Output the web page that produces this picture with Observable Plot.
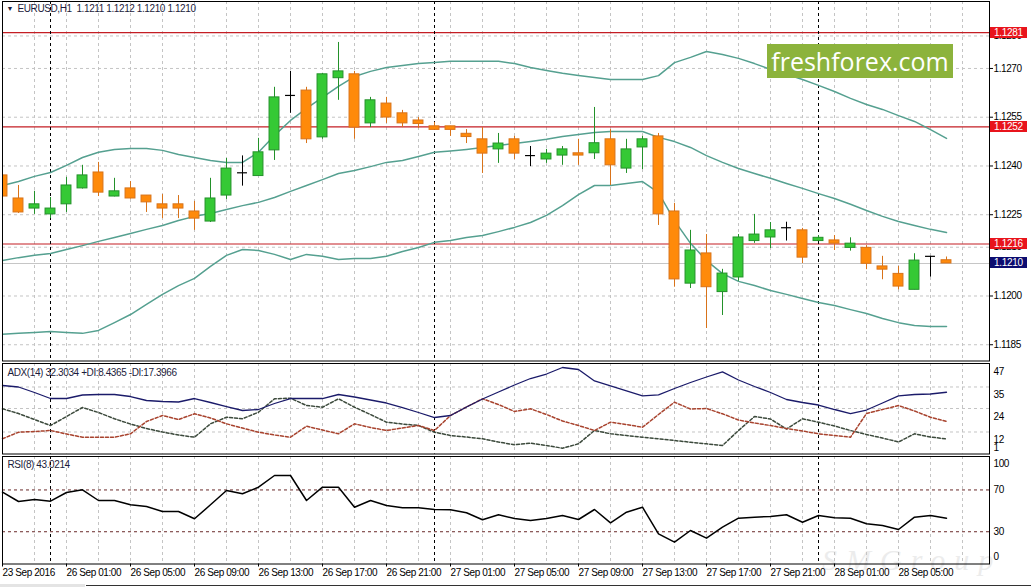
<!DOCTYPE html>
<html><head><meta charset="utf-8">
<script src="https://cdn.jsdelivr.net/npm/d3@7"></script>
<script src="https://cdn.jsdelivr.net/npm/@observablehq/plot@0.6"></script>
<style>
body{margin:0;background:#fff;}
#wrap{position:relative;width:1031px;height:587px;overflow:hidden;background:#fff;font-family:"Liberation Sans",Arial,sans-serif;}
#wrap svg{position:absolute;left:0;}
.lbl{position:absolute;left:990px;width:37px;height:11px;color:#fff;font:10px "Liberation Sans",Arial,sans-serif;letter-spacing:-0.3px;line-height:11px;text-align:center;}
</style></head><body><div id="wrap"></div><script>
// ---- data ----
const openP = [1.12371,1.12300,1.12269,1.12251,1.12282,1.12331,1.12380,1.12306,1.12331,1.12309,
1.12282,1.12282,1.12260,1.12229,1.12309,1.12379,1.12369,1.12448,1.12617,1.12632,
1.12488,1.12670,1.12682,1.12531,1.12592,1.12562,1.12540,1.12522,1.12522,1.12499,
1.12482,1.12451,1.12482,1.12432,1.12420,1.12432,1.12439,1.12439,1.12482,1.12392,
1.12457,1.12491,1.12260,1.12038,1.12131,1.12012,1.12057,1.12169,1.12180,1.12210,
1.12202,1.12169,1.12171,1.12148,1.12148,1.12091,1.12068,1.12019,1.12122,1.12110];
const highP = [1.12380,1.12340,1.12322,1.12303,1.12365,1.12402,1.12411,1.12362,1.12352,1.12309,
1.12312,1.12309,1.12291,1.12362,1.12423,1.12431,1.12485,1.12642,1.12691,1.12642,
1.12685,1.12780,1.12691,1.12611,1.12611,1.12571,1.12549,1.12534,1.12522,1.12512,
1.12518,1.12500,1.12491,1.12460,1.12451,1.12460,1.12482,1.12580,1.12512,1.12482,
1.12491,1.12500,1.12285,1.12202,1.12189,1.12082,1.12189,1.12251,1.12226,1.12227,
1.12208,1.12186,1.12186,1.12179,1.12155,1.12122,1.12091,1.12130,1.12122,1.12120];
const lowP = [1.12288,1.12254,1.12251,1.12238,1.12257,1.12329,1.12306,1.12305,1.12298,1.12257,
1.12238,1.12238,1.12202,1.12226,1.12297,1.12338,1.12368,1.12417,1.12562,1.12469,
1.12482,1.12602,1.12482,1.12518,1.12531,1.12518,1.12515,1.12511,1.12491,1.12469,
1.12377,1.12408,1.12420,1.12398,1.12408,1.12402,1.12402,1.12420,1.12340,1.12377,
1.12389,1.12217,1.12027,1.12023,1.11900,1.11940,1.12045,1.12162,1.12146,1.12169,
1.12100,1.12168,1.12140,1.12138,1.12081,1.12050,1.12019,1.12019,1.12058,1.12100];
const closeP = [1.12306,1.12257,1.12282,1.12269,1.12340,1.12371,1.12318,1.12322,1.12300,1.12288,
1.12269,1.12269,1.12238,1.12300,1.12392,1.12379,1.12442,1.12611,1.12617,1.12482,
1.12682,1.12691,1.12518,1.12602,1.12549,1.12531,1.12529,1.12511,1.12511,1.12489,
1.12438,1.12469,1.12438,1.12432,1.12438,1.12451,1.12432,1.12470,1.12402,1.12451,
1.12482,1.12251,1.12051,1.12140,1.12027,1.12069,1.12180,1.12189,1.12202,1.12210,
1.12118,1.12179,1.12161,1.12161,1.12099,1.12081,1.12029,1.12109,1.12122,1.12100];
const bbUpper = [1.12340,1.12352,1.12368,1.12380,1.12402,1.12426,1.12442,1.12451,1.12454,1.12454,
1.12448,1.12435,1.12426,1.12417,1.12411,1.12411,1.12442,1.12494,1.12540,1.12577,
1.12611,1.12645,1.12675,1.12691,1.12703,1.12709,1.12715,1.12718,1.12722,1.12722,
1.12722,1.12722,1.12715,1.12703,1.12694,1.12685,1.12678,1.12672,1.12666,1.12666,
1.12666,1.12678,1.12718,1.12734,1.12752,1.12743,1.12731,1.12715,1.12697,1.12682,
1.12666,1.12648,1.12629,1.12608,1.12589,1.12574,1.12555,1.12537,1.12512,1.12485];
const bbMiddle = [1.12109,1.12118,1.12125,1.12131,1.12143,1.12155,1.12168,1.12180,1.12192,1.12205,
1.12217,1.12232,1.12245,1.12254,1.12266,1.12278,1.12288,1.12303,1.12322,1.12340,
1.12358,1.12377,1.12386,1.12398,1.12411,1.12417,1.12429,1.12442,1.12446,1.12451,
1.12457,1.12463,1.12469,1.12475,1.12482,1.12491,1.12497,1.12503,1.12506,1.12506,
1.12506,1.12488,1.12475,1.12457,1.12432,1.12411,1.12392,1.12377,1.12362,1.12346,
1.12331,1.12315,1.12300,1.12282,1.12263,1.12245,1.12229,1.12217,1.12205,1.12195];
const bbLower = [1.11882,1.11885,1.11888,1.11891,1.11888,1.11885,1.11894,1.11918,1.11943,1.11974,
1.12005,1.12032,1.12054,1.12091,1.12125,1.12143,1.12140,1.12128,1.12112,1.12128,
1.12122,1.12112,1.12115,1.12115,1.12122,1.12137,1.12149,1.12165,1.12171,1.12180,
1.12186,1.12198,1.12211,1.12226,1.12248,1.12278,1.12312,1.12340,1.12340,1.12346,
1.12352,1.12318,1.12232,1.12162,1.12109,1.12069,1.12045,1.12032,1.12017,1.12005,
1.11992,1.11980,1.11971,1.11958,1.11946,1.11931,1.11918,1.11909,1.11906,1.11906];
const adxMain = [35.76,34.99,32.18,29.11,29.11,30.90,31.16,31.16,30.13,28.09,
27.58,27.32,29.11,27.07,25.02,22.98,23.49,26.56,29.11,29.11,
29.11,31.16,29.88,28.35,26.81,24.51,21.96,19.40,20.42,24.77,
28.86,32.43,36.01,39.33,41.63,44.96,43.93,38.06,35.60,33.05,
30.49,31.00,34.22,37.29,40.10,42.76,38.57,35.25,32.18,28.60,
27.07,25.79,23.49,21.44,23.23,26.81,30.49,31.16,31.41,32.30];
const plusDI = [23.85,21.44,18.38,15.31,19.91,24.51,21.96,18.74,16.08,13.78,
11.99,10.46,9.33,16.18,19.55,18.74,22.11,28.96,29.26,25.53,
24.66,28.96,24.66,20.93,17.00,16.08,15.31,11.89,10.20,9.43,
8.51,6.88,5.45,6.26,5.09,3.71,5.96,12.76,11.07,10.20,
9.33,8.51,7.64,6.78,5.96,5.09,12.76,19.91,18.63,13.52,
18.74,17.00,15.06,12.76,10.71,8.92,6.88,11.07,9.43,8.44];
const minusDI = [8.51,11.89,12.24,12.76,10.97,9.33,9.33,9.33,11.07,17.36,
20.42,18.38,21.29,19.14,16.18,14.03,11.89,10.46,9.33,14.95,
13.01,11.07,16.18,14.29,12.76,14.03,15.31,12.76,20.42,24.77,
28.96,26.04,22.47,23.85,20.93,17.61,15.31,12.76,17.00,15.82,
14.44,20.93,27.22,23.74,24.00,21.29,18.12,16.59,15.31,13.78,
12.50,11.07,10.20,9.33,21.44,23.49,25.53,22.72,19.55,17.40];
const rsiVals = [67.85,58.95,60.86,59.23,67.56,70.14,59.90,59.90,55.79,54.16,
49.38,49.38,42.39,55.79,69.47,66.32,72.63,83.83,83.83,59.90,
72.63,72.63,53.49,59.90,55.12,52.92,52.92,51.29,51.00,48.13,
41.44,46.22,42.68,40.77,42.68,45.55,41.72,51.29,38.56,48.71,
53.49,28.04,20.00,31.20,23.83,34.35,42.97,43.92,44.59,46.22,
39.14,45.55,43.35,42.97,37.61,35.98,32.15,43.92,45.55,43.02];
const priceTicks = [1.1185,1.1200,1.1215,1.1225,1.1240,1.1255,1.1270,1.1280];
const redLevels = [1.1281,1.1252,1.1216];
const bidPrice = 1.1210;
const timeTickIdx = [0,4,8,12,16,20,24,28,32,36,40,44,48,52,56];
const timeLabels = ["23 Sep 2016","26 Sep 01:00","26 Sep 05:00","26 Sep 09:00","26 Sep 13:00","26 Sep 17:00","26 Sep 21:00","27 Sep 01:00","27 Sep 05:00","27 Sep 09:00","27 Sep 13:00","27 Sep 17:00","27 Sep 21:00","28 Sep 01:00","28 Sep 05:00"];
const daySepIdx = [3,27,51];
const adxTicks = [47,35,24,12];
const adxMinTick = [1];
const rsiLevels = [30,70];
const rsiTop = [100];
const rsiBottom = [0];
const headerText = "EURUSD,H1\u00a0\u00a01.1211 1.1212 1.1210 1.1210";
const adxText = "ADX(14) 32.3034 +DI:8.4365 -DI:17.3966";
const rsiText = "RSI(8) 43.0214";

// ---- tables ----
const bars = openP.map((o,i)=>({i,o,h:highP[i],l:lowP[i],c:closeP[i],up:bbUpper[i],mid:bbMiddle[i],lo:bbLower[i],
  adx:adxMain[i],pdi:plusDI[i],mdi:minusDI[i],rsi:rsiVals[i]}));
const bull = bars.filter(d=>d.c>d.o), bear = bars.filter(d=>d.c<d.o), doji = bars.filter(d=>d.c===d.o);
const hw = 0.31;

const W = 1031, ML = 2, MR = 42;
const xDomain = [0, 61.6875];
const xEdge = xDomain[1];
const vGrid = d3.range(0, 62, 2);
const gridStyle = {stroke:"#c4c4c4", strokeDasharray:"3,3"};
const sepStyle = {stroke:"#000", strokeDasharray:"3,3"};
const font = {fontFamily:"Liberation Sans, Arial, sans-serif", fontSize:"10px", letterSpacing:"-0.4px", color:"#000", background:"transparent", overflow:"visible"};
const bandColor = "#55a090";
const wrap = document.getElementById("wrap");
const rightLabel = (data, dy) => Plot.text(data, {x:()=>xEdge, y:d=>d, text:d=>String(d), textAnchor:"start", dx:4, dy, fill:"#000"});

const main = Plot.plot({
  width:W, height:362, marginLeft:ML, marginRight:MR, marginTop:1, marginBottom:1.5,
  style:font,
  x:{domain:xDomain, axis:null},
  y:{domain:[1.1180,1.12906]},
  marks:[
    Plot.ruleX(vGrid, gridStyle),
    Plot.ruleY(priceTicks, gridStyle),
    Plot.ruleY([bidPrice], {stroke:"#c6c6c6"}),
    Plot.ruleY(redLevels, {stroke:"#c41e24", strokeWidth:1.2}),
    Plot.ruleX(daySepIdx, sepStyle),
    Plot.line(bars, {x:"i", y:"up", stroke:bandColor, clip:true}),
    Plot.line(bars, {x:"i", y:"mid", stroke:bandColor, clip:true}),
    Plot.line(bars, {x:"i", y:"lo", stroke:bandColor, clip:true}),
    Plot.ruleX(bull, {x:"i", y1:"l", y2:"h", stroke:"#23912a", clip:true}),
    Plot.ruleX(bear, {x:"i", y1:"l", y2:"h", stroke:"#d8731a", clip:true}),
    Plot.ruleX(doji, {x:"i", y1:"l", y2:"h", stroke:"#000", clip:true}),
    Plot.rect(bull, {x1:d=>d.i-hw, x2:d=>d.i+hw, y1:"o", y2:"c", fill:"#35c935", stroke:"#23912a", clip:true}),
    Plot.rect(bear, {x1:d=>d.i-hw, x2:d=>d.i+hw, y1:"o", y2:"c", fill:"#ff8a0a", stroke:"#d8731a", clip:true}),
    Plot.ruleY(doji, {y:"o", x1:d=>d.i-hw, x2:d=>d.i+hw, stroke:"#000", strokeWidth:1.2}),
    Plot.axisY({anchor:"right", ticks:priceTicks, tickFormat:d3.format(".4f"), tickSize:3, tickPadding:1, label:null}),
    Plot.frame({stroke:"#000"}),
    Plot.text(["\u25BC"], {frameAnchor:"top-left", dx:4, dy:5, fontSize:7, fill:"#1c1c3c"}),
    Plot.text([headerText], {frameAnchor:"top-left", dx:15, dy:3, fill:"#1c1c3c", fontSize:10})
  ]
});
main.style.top = "0px";
wrap.appendChild(main);

const adxPlot = Plot.plot({
  width:W, height:93, marginLeft:ML, marginRight:MR, marginTop:1, marginBottom:1.5,
  style:font,
  x:{domain:xDomain, axis:null},
  y:{domain:[0.75,47], axis:null},
  marks:[
    Plot.ruleX(vGrid, gridStyle),
    Plot.ruleY(adxTicks, gridStyle),
    Plot.ruleX(daySepIdx, sepStyle),
    Plot.line(bars, {x:"i", y:"pdi", stroke:"#3c4a3c", strokeDasharray:"3,2"}),
    Plot.line(bars, {x:"i", y:"mdi", stroke:"#a8432e", strokeDasharray:"3,2"}),
    Plot.line(bars, {x:"i", y:"adx", stroke:"#1b1b6a", strokeWidth:1.3}),
    rightLabel(adxTicks, 8),
    rightLabel(adxMinTick, -6),
    Plot.frame({stroke:"#000"}),
    Plot.text([adxText], {frameAnchor:"top-left", dx:5, dy:5, fill:"#1c1c3c"})
  ]
});
adxPlot.style.top = "362px";
wrap.appendChild(adxPlot);

const rsiPlot = Plot.plot({
  width:W, height:132, marginLeft:ML, marginRight:MR, marginTop:1, marginBottom:23.5,
  style:font,
  x:{domain:xDomain},
  y:{domain:[-0.86,102], axis:null},
  marks:[
    Plot.ruleX(vGrid, gridStyle),
    Plot.ruleY(rsiLevels, {stroke:"#6a2a2a", strokeDasharray:"3,3"}),
    Plot.ruleX(daySepIdx, sepStyle),
    Plot.line(bars, {x:"i", y:"rsi", stroke:"#000"}),
    rightLabel(rsiLevels, 0),
    rightLabel(rsiTop, 5),
    rightLabel(rsiBottom, -6),
    Plot.axisX({anchor:"bottom", ticks:timeTickIdx, tickFormat:d=>timeLabels[timeTickIdx.indexOf(d)], tickSize:3, tickPadding:2, textAnchor:"start", label:null}),
    Plot.frame({stroke:"#000"}),
    Plot.text([rsiText], {frameAnchor:"top-left", dx:5, dy:4, fill:"#1c1c3c"})
  ]
});
rsiPlot.style.top = "455px";
wrap.appendChild(rsiPlot);

// ---- price labels on the right scale, positioned with the plot's y scale ----
const yS = main.scale("y");
function priceLabel(v, bg){
  const d = document.createElement("div");
  d.className = "lbl";
  d.style.top = (yS.apply(v) - 5.5) + "px";
  d.style.background = bg;
  d.textContent = v.toFixed(4);
  wrap.appendChild(d);
}
redLevels.forEach(v=>priceLabel(v, "#e8141c"));
priceLabel(bidPrice, "#0c0c70");

// ---- watermarks ----
const wm = document.createElement("div");
wm.style.cssText = "position:absolute;left:767px;top:44px;width:186px;height:34px;background:#8cb33c;color:#fff;font:25px 'Open Sans',sans-serif;line-height:34px;text-align:center;";
wm.textContent = "freshforex.com";
wrap.appendChild(wm);
const sm = document.createElement("div");
sm.style.cssText = "position:absolute;left:822px;top:543px;color:#ececec;font:italic 30px 'Liberation Serif',serif;letter-spacing:9px;white-space:nowrap;pointer-events:none;";
sm.textContent = "SMGroup";
wrap.insertBefore(sm, wrap.firstChild);
const tab = document.createElement("div");
tab.style.cssText = "position:absolute;left:0;top:584px;width:85px;height:3px;background:#e4e4e4;";
wrap.appendChild(tab);
const bl = document.createElement("div");
bl.style.cssText = "position:absolute;left:86px;top:585px;width:945px;height:1px;background:#333;";
wrap.appendChild(bl);
</script></body></html>
